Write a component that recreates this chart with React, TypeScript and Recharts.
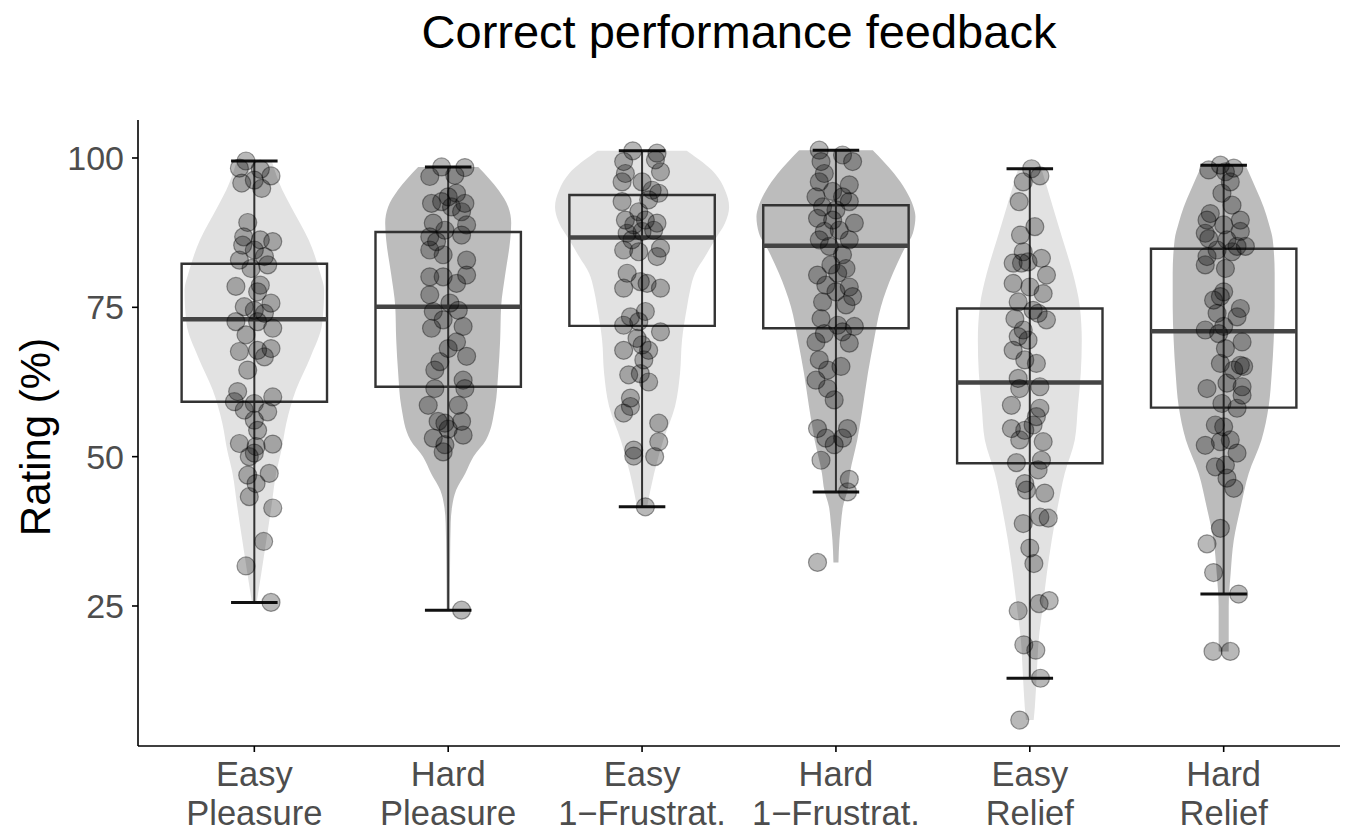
import React from "react";
import {
  ComposedChart,
  Area,
  Scatter,
  XAxis,
  YAxis,
  ReferenceArea,
  ReferenceLine,
} from "recharts";

// ---- data ---------------------------------------------------------------

const CONDITIONS = [
  "Easy Pleasure",
  "Hard Pleasure",
  "Easy 1−Frustrat.",
  "Hard 1−Frustrat.",
  "Easy Relief",
  "Hard Relief",
];
const TICK_LINE_1 = ["Easy", "Hard", "Easy", "Hard", "Easy", "Hard"];
const TICK_LINE_2 = [
  "Pleasure",
  "Pleasure",
  "1−Frustrat.",
  "1−Frustrat.",
  "Relief",
  "Relief",
];
const Y_TICKS = [25, 50, 75, 100];

// box plot statistics (rating %)
const WHISKER_LOW = [25.6, 24.3, 41.6, 44.1, 12.9, 27.0];
const Q1 = [59.2, 61.7, 71.9, 71.5, 48.9, 58.2];
const MEDIAN = [73.0, 75.1, 86.7, 85.3, 62.4, 71.0];
const Q3 = [82.3, 87.6, 93.8, 92.1, 74.8, 84.8];
const WHISKER_HIGH = [99.5, 98.5, 101.2, 101.3, 98.2, 98.8];

// violin outlines: [rating, half width in category units]
const VIOLIN_EASY_PLEASURE = [
  [25.6, 0.012], [30.5, 0.036], [36.0, 0.062], [41.6, 0.088], [47.3, 0.113],
  [51.1, 0.14], [55.6, 0.165], [61.2, 0.215], [66.7, 0.29], [72.3, 0.35],
  [77.9, 0.36], [80.7, 0.34], [86.3, 0.28], [91.8, 0.19], [94.6, 0.145],
  [99.5, 0.09],
];
const VIOLIN_HARD_PLEASURE = [
  [24.3, 0.008], [33.3, 0.01], [38.9, 0.013], [41.6, 0.02], [44.4, 0.041],
  [47.2, 0.088], [50.0, 0.13], [52.8, 0.195], [58.4, 0.242], [64.0, 0.258],
  [69.5, 0.268], [75.1, 0.273], [80.7, 0.295], [86.3, 0.32], [89.1, 0.325],
  [91.8, 0.31], [94.6, 0.26], [98.5, 0.155],
];
const VIOLIN_EASY_FRUSTRAT = [
  [41.6, 0.026], [47.2, 0.062], [52.8, 0.11], [58.4, 0.17], [64.0, 0.196],
  [69.5, 0.206], [75.1, 0.232], [77.9, 0.248], [80.7, 0.273], [83.5, 0.325],
  [86.3, 0.376], [89.1, 0.428], [91.8, 0.449], [94.6, 0.428], [97.4, 0.376],
  [101.2, 0.23],
];
const VIOLIN_HARD_FRUSTRAT = [
  [32.3, 0.013], [36.0, 0.018], [38.8, 0.026], [41.6, 0.036], [44.4, 0.06],
  [47.2, 0.072], [52.8, 0.11], [58.4, 0.139], [64.0, 0.165], [69.5, 0.196],
  [75.1, 0.232], [80.7, 0.294], [84.6, 0.35], [87.4, 0.397], [90.2, 0.41],
  [91.8, 0.4], [94.6, 0.36], [97.4, 0.3], [101.3, 0.19],
];
const VIOLIN_EASY_RELIEF = [
  [5.9, 0.02], [8.1, 0.026], [13.7, 0.036], [19.3, 0.046], [24.9, 0.067],
  [30.5, 0.088], [36.0, 0.113], [41.6, 0.144], [47.2, 0.18], [52.8, 0.232],
  [58.4, 0.248], [64.0, 0.263], [69.5, 0.268], [75.1, 0.258], [80.7, 0.222],
  [86.3, 0.17], [91.8, 0.119], [98.2, 0.06],
];
const VIOLIN_HARD_RELIEF = [
  [17.4, 0.026], [24.9, 0.026], [30.5, 0.036], [36.0, 0.052], [41.6, 0.088],
  [47.2, 0.129], [52.8, 0.195], [58.4, 0.232], [64.0, 0.248], [69.5, 0.258],
  [75.1, 0.263], [80.7, 0.263], [86.3, 0.253], [89.1, 0.232], [91.8, 0.206],
  [94.6, 0.17], [98.8, 0.113],
];
const VIOLINS = [
  VIOLIN_EASY_PLEASURE,
  VIOLIN_HARD_PLEASURE,
  VIOLIN_EASY_FRUSTRAT,
  VIOLIN_HARD_FRUSTRAT,
  VIOLIN_EASY_RELIEF,
  VIOLIN_HARD_RELIEF,
];

// individual ratings: [horizontal jitter in category units, rating]
const POINTS_EASY_PLEASURE = [
  [-0.043, 99.5], [-0.077, 98.3], [0.031, 98.1], [0.086, 97.0], [-0.065, 95.8],
  [0, 96.3], [0.038, 94.9], [-0.034, 89.2], [-0.055, 86.8], [0.031, 86.3],
  [0.095, 86.0], [-0.06, 85.4], [0, 84.6], [-0.077, 82.9], [0.052, 83.5],
  [0.069, 82.1], [-0.017, 81.5], [-0.095, 78.5], [0.031, 78.7], [0.017, 77.6],
  [0.086, 75.7], [-0.052, 75.1], [0, 74.5], [0.052, 74.0], [-0.095, 72.6],
  [0.017, 72.6], [0.095, 71.5], [-0.043, 70.4], [-0.077, 67.6], [0.017, 67.8],
  [0.086, 68.1], [0.052, 66.7], [-0.034, 64.5], [-0.086, 60.9], [-0.103, 59.2],
  [0, 58.9], [0.095, 60.0], [-0.052, 57.8], [0.069, 57.5], [0, 56.1],
  [0.017, 54.4], [-0.077, 52.2], [0.095, 52.1], [0.009, 51.7], [0, 50.6],
  [-0.026, 50.0], [-0.034, 46.9], [0.077, 47.2], [0.009, 45.5], [-0.026, 43.3],
  [0.095, 41.4], [0.048, 35.8], [-0.043, 31.7], [0.086, 25.6],
];
const POINTS_HARD_PLEASURE = [
  [-0.034, 98.5], [0.086, 98.4], [-0.095, 96.9], [0.034, 97.1], [0, 93.5],
  [0.043, 94.1], [-0.086, 92.4], [-0.034, 92.7], [0.086, 92.4], [0.017, 91.8],
  [0.069, 91.0], [-0.077, 89.1], [0.095, 88.8], [-0.017, 87.9], [-0.095, 86.8],
  [0.069, 87.1], [-0.06, 86.0], [-0.095, 84.6], [-0.026, 83.8], [0.095, 82.9],
  [-0.095, 80.1], [-0.026, 80.1], [0.095, 80.4], [0.043, 79.0], [-0.095, 77.1],
  [0.009, 75.7], [-0.077, 74.3], [0.052, 74.5], [-0.026, 72.9], [-0.086, 71.5],
  [0.077, 71.8], [0.043, 69.2], [0, 68.1], [0.095, 66.8], [-0.043, 65.9],
  [-0.069, 64.5], [0.077, 62.8], [-0.069, 61.4], [0.086, 61.4], [-0.103, 58.6],
  [0.052, 58.6], [-0.052, 55.9], [0.069, 55.9], [-0.017, 55.6], [0, 54.6],
  [-0.077, 53.1], [0.077, 53.6], [-0.017, 52.0], [-0.026, 50.8], [0.069, 24.3],
];
const POINTS_EASY_FRUSTRAT = [
  [-0.048, 101.2], [0.077, 100.8], [-0.095, 99.4], [0.069, 99.7], [-0.086, 97.4],
  [0.095, 97.7], [-0.103, 96.0], [0, 96.0], [0.052, 94.6], [0.086, 94.1],
  [-0.103, 92.7], [0.034, 93.0], [-0.017, 91.0], [-0.086, 89.6], [0.017, 89.6],
  [0.077, 89.1], [-0.043, 88.8], [-0.077, 87.4], [0, 87.7], [0.06, 87.9],
  [-0.052, 86.3], [0.095, 84.9], [-0.095, 84.6], [-0.017, 84.3], [0.077, 83.5],
  [-0.077, 80.7], [-0.009, 79.3], [0.026, 79.0], [-0.095, 78.2], [0.095, 78.2],
  [0.017, 74.3], [-0.06, 73.4], [-0.095, 72.0], [-0.017, 72.6], [0.095, 70.9],
  [-0.026, 69.8], [0, 68.7], [-0.095, 67.8], [0.034, 67.8], [0.009, 66.2],
  [-0.069, 63.7], [-0.009, 63.9], [0.034, 62.5], [-0.06, 59.8], [-0.095, 57.3],
  [-0.06, 58.4], [0.086, 55.6], [0.086, 52.5], [-0.043, 51.1], [-0.043, 50.1],
  [0.065, 50.0], [0.017, 41.6],
];
const POINTS_HARD_FRUSTRAT = [
  [-0.086, 101.3], [0.034, 100.5], [0.086, 99.4], [-0.077, 99.4], [-0.06, 97.4],
  [-0.086, 96.0], [0.069, 95.5], [-0.103, 93.5], [-0.017, 94.4], [0.034, 93.5],
  [0.069, 92.7], [-0.069, 91.8], [0, 91.3], [-0.095, 89.9], [-0.017, 89.6],
  [0.095, 89.1], [-0.06, 87.7], [0.017, 87.9], [-0.086, 86.3], [0.069, 86.3],
  [-0.034, 85.2], [0.034, 83.8], [-0.026, 82.1], [0.052, 81.5], [-0.095, 80.4],
  [0.009, 80.7], [-0.052, 78.7], [0.069, 78.4], [0, 77.6], [0.086, 76.8],
  [0.052, 75.4], [-0.069, 75.9], [-0.077, 73.1], [0.009, 72.0], [0.095, 71.8],
  [0.034, 70.9], [-0.06, 70.6], [-0.103, 69.2], [0.069, 69.0], [-0.086, 66.2],
  [0.026, 65.1], [-0.043, 64.5], [-0.103, 62.8], [-0.043, 61.4], [-0.009, 59.5],
  [-0.095, 54.7], [0.06, 54.7], [-0.052, 53.1], [0.034, 53.1], [-0.009, 52.0],
  [-0.077, 49.4], [0.069, 46.2], [0.06, 44.1], [-0.095, 32.3],
];
const POINTS_EASY_RELIEF = [
  [0.009, 98.2], [0.052, 97.0], [-0.034, 96.0], [-0.055, 92.7], [0.026, 88.5],
  [-0.048, 87.1], [-0.034, 84.3], [0.06, 83.2], [-0.086, 82.4], [-0.043, 82.4],
  [-0.009, 82.6], [0.086, 80.4], [-0.086, 79.0], [0, 78.4], [0.069, 77.3],
  [-0.06, 75.9], [0.017, 74.5], [0.043, 74.0], [-0.077, 73.1], [0.086, 72.9],
  [-0.034, 71.2], [-0.06, 70.1], [-0.009, 69.5], [-0.086, 67.8], [-0.026, 66.2],
  [0.034, 65.6], [-0.06, 63.1], [0.052, 61.7], [-0.052, 61.4], [-0.095, 58.6],
  [0.052, 58.1], [0.034, 56.7], [-0.095, 54.7], [-0.026, 54.4], [0.017, 55.3],
  [-0.052, 52.8], [0.069, 52.5], [-0.069, 49.0], [0.06, 49.4], [0.043, 47.8],
  [-0.026, 45.5], [-0.017, 44.4], [0.077, 43.9], [-0.034, 38.8], [0.052, 39.9],
  [0.095, 39.7], [0, 34.7], [0.021, 32.1], [0.048, 25.4], [0.1, 25.9],
  [-0.06, 24.2], [-0.031, 18.5], [0.031, 17.6], [0.055, 12.9], [-0.052, 5.9],
];
const POINTS_HARD_RELIEF = [
  [-0.017, 98.8], [-0.077, 98.0], [0.052, 98.3], [0.009, 97.7], [0.034, 96.0],
  [-0.009, 94.1], [0.043, 92.1], [-0.069, 90.7], [-0.086, 89.6], [0.086, 89.6],
  [0, 88.8], [-0.095, 87.4], [0.086, 87.7], [-0.077, 86.5], [0.017, 86.3],
  [0.112, 85.2], [0.069, 85.2], [-0.034, 84.6], [-0.086, 83.5], [0.043, 84.3],
  [-0.095, 82.1], [0.009, 81.5], [0, 77.6], [-0.052, 76.2], [-0.017, 76.8],
  [0.086, 74.8], [0.069, 73.4], [-0.034, 74.0], [-0.095, 71.2], [-0.026, 70.6],
  [0, 71.8], [0.095, 69.2], [0.009, 68.1], [-0.017, 65.6], [0.086, 65.3],
  [0.052, 64.5], [0.103, 65.1], [-0.086, 61.4], [0.017, 62.3], [0.095, 61.7],
  [-0.009, 58.9], [0.069, 58.1], [0.095, 60.3], [-0.043, 55.3], [0, 55.0],
  [-0.095, 51.9], [0.034, 52.8], [-0.017, 52.5], [0.069, 50.6], [-0.043, 48.3],
  [0.009, 48.6], [0.017, 46.4], [0.052, 44.7], [-0.017, 38.0], [-0.086, 35.4],
  [-0.052, 30.6], [0.077, 27.0], [-0.055, 17.4], [0.034, 17.4],
];
const POINTS = [
  POINTS_EASY_PLEASURE,
  POINTS_HARD_PLEASURE,
  POINTS_EASY_FRUSTRAT,
  POINTS_HARD_FRUSTRAT,
  POINTS_EASY_RELIEF,
  POINTS_HARD_RELIEF,
];

// ---- styling ------------------------------------------------------------

const FONT = '"Liberation Sans", Arial, Helvetica, sans-serif';
const VIOLIN_FILL = ["#e2e2e2", "#bcbcbc", "#e2e2e2", "#bcbcbc", "#e2e2e2", "#bcbcbc"];
const BOX_HALF = 0.375;
const CAP_HALF = 0.12;
const WIDTH = 1347;
const HEIGHT = 832;

// category index (1-based) + jitter gives the horizontal position
const scatterData = POINTS.flatMap((pts, i) =>
  pts.map(([dx, v]) => ({ x: i + 1 + dx, v, condition: CONDITIONS[i] }))
);

const violinData = VIOLINS.map((profile, i) =>
  [...profile]
    .sort((a, b) => a[0] - b[0])
    .map(([v, w]) => ({ v, band: [i + 1 - w, i + 1 + w] }))
);

const CategoryTick = (props: any) => {
  const { x, y, payload } = props;
  const i = Math.round(payload.value) - 1;
  return (
    <text
      x={x}
      y={y}
      textAnchor="middle"
      fill="#4d4d4d"
      fontSize={34.5}
      fontFamily={FONT}
    >
      <tspan x={x} dy="0.71em">
        {TICK_LINE_1[i]}
      </tspan>
      <tspan x={x} dy="1.12em">
        {TICK_LINE_2[i]}
      </tspan>
    </text>
  );
};

const Dot = (props: any) => (
  <circle
    cx={props.cx}
    cy={props.cy}
    r={9}
    fill="#000"
    fillOpacity={0.28}
    stroke="#000"
    strokeOpacity={0.38}
    strokeWidth={1.2}
  />
);

export default function App() {
  return (
    <div
      style={{
        position: "fixed",
        left: 0,
        top: 0,
        width: WIDTH,
        height: HEIGHT,
        background: "#fff",
        fontFamily: FONT,
      }}
    >
      <ComposedChart
        layout="vertical"
        width={WIDTH}
        height={HEIGHT}
        margin={{ top: 120, right: 7, bottom: 0, left: 0 }}
      >
        <XAxis
          type="number"
          dataKey="x"
          domain={[0.4, 6.6]}
          ticks={[1, 2, 3, 4, 5, 6]}
          interval={0}
          allowDataOverflow
          height={86}
          tickSize={6}
          tickMargin={10}
          tick={<CategoryTick />}
          axisLine={{ stroke: "#000", strokeWidth: 1.6 }}
          tickLine={{ stroke: "#000", strokeWidth: 1.6 }}
        />
        <YAxis
          type="number"
          dataKey="v"
          domain={[1.56, 106.36]}
          reversed
          ticks={Y_TICKS}
          interval={0}
          allowDataOverflow
          width={138}
          tickSize={6}
          tickMargin={8}
          tick={{ fill: "#4d4d4d", fontSize: 34, fontFamily: FONT }}
          axisLine={{ stroke: "#000", strokeWidth: 1.6 }}
          tickLine={{ stroke: "#000", strokeWidth: 1.6 }}
        />

        {violinData.map((rows, i) => (
          <Area
            key={`violin-${i}`}
            data={rows}
            dataKey="band"
            type="monotone"
            fill={VIOLIN_FILL[i]}
            fillOpacity={1}
            stroke="none"
            dot={false}
            activeDot={false}
            isAnimationActive={false}
          />
        ))}

        {CONDITIONS.map((c, i) => (
          <ReferenceArea
            key={`box-${c}`}
            x1={i + 1 - BOX_HALF}
            x2={i + 1 + BOX_HALF}
            y1={Q1[i]}
            y2={Q3[i]}
            fill="none"
            fillOpacity={0}
            stroke="#333"
            strokeWidth={2.4}
            ifOverflow="visible"
          />
        ))}
        {CONDITIONS.map((c, i) => (
          <ReferenceLine
            key={`whisker-${c}`}
            segment={[
              { x: i + 1, y: WHISKER_LOW[i] },
              { x: i + 1, y: WHISKER_HIGH[i] },
            ]}
            stroke="#333"
            strokeWidth={2}
            ifOverflow="visible"
          />
        ))}
        {CONDITIONS.map((c, i) => (
          <ReferenceLine
            key={`median-${c}`}
            segment={[
              { x: i + 1 - BOX_HALF, y: MEDIAN[i] },
              { x: i + 1 + BOX_HALF, y: MEDIAN[i] },
            ]}
            stroke="#444"
            strokeWidth={4.5}
            ifOverflow="visible"
          />
        ))}
        {CONDITIONS.map((c, i) => (
          <ReferenceLine
            key={`cap-low-${c}`}
            segment={[
              { x: i + 1 - CAP_HALF, y: WHISKER_LOW[i] },
              { x: i + 1 + CAP_HALF, y: WHISKER_LOW[i] },
            ]}
            stroke="#111"
            strokeWidth={3}
            ifOverflow="visible"
          />
        ))}
        {CONDITIONS.map((c, i) => (
          <ReferenceLine
            key={`cap-high-${c}`}
            segment={[
              { x: i + 1 - CAP_HALF, y: WHISKER_HIGH[i] },
              { x: i + 1 + CAP_HALF, y: WHISKER_HIGH[i] },
            ]}
            stroke="#111"
            strokeWidth={3}
            ifOverflow="visible"
          />
        ))}

        <Scatter
          data={scatterData}
          dataKey="v"
          shape={<Dot />}
          isAnimationActive={false}
        />
      </ComposedChart>

      <svg
        width={WIDTH}
        height={HEIGHT}
        style={{ position: "absolute", left: 0, top: 0, pointerEvents: "none" }}
      >
        <text
          x={739}
          y={48}
          textAnchor="middle"
          fontSize={47}
          fontFamily={FONT}
          fill="#000"
        >
          Correct performance feedback
        </text>
        <text
          x={50}
          y={437}
          transform="rotate(-90 50 437)"
          textAnchor="middle"
          fontSize={42}
          fontFamily={FONT}
          fill="#000"
        >
          Rating (%)
        </text>
      </svg>
    </div>
  );
}
